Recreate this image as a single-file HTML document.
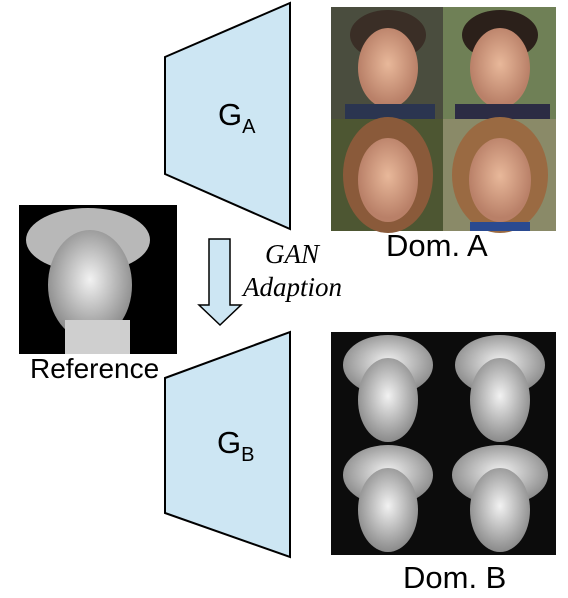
<!DOCTYPE html>
<html><head><style>
body{margin:0;width:568px;height:598px;background:#fff;position:relative;overflow:hidden;font-family:"Liberation Sans",sans-serif}
.t{position:absolute;white-space:nowrap;color:#000}
</style></head><body>
<svg width="568" height="598" style="position:absolute;left:0;top:0">
<defs>
<radialGradient id="skin" cx="50%" cy="45%" r="50%"><stop offset="0" stop-color="#e8b89a"/><stop offset="1" stop-color="#b98068"/></radialGradient>
<radialGradient id="marb" cx="50%" cy="45%" r="55%"><stop offset="0" stop-color="#f2f2f2"/><stop offset="1" stop-color="#8a8a8a"/></radialGradient>
</defs>
<polygon points="165,57 290,3 290,229 165,174" fill="#cde6f3" stroke="#000" stroke-width="2"/>
<polygon points="165,378 290,332 290,557 165,513" fill="#cde6f3" stroke="#000" stroke-width="2"/>
<polygon points="209,239 230,239 230,305 241,305 220,325 199,305 209,305" fill="#cde6f3" stroke="#000" stroke-width="1.5"/>
<rect x="331" y="7" width="112" height="112" fill="#4a4d3e"/>
<rect x="443" y="7" width="113" height="112" fill="#6f8056"/>
<rect x="331" y="119" width="112" height="112" fill="#4d5632"/>
<rect x="443" y="119" width="113" height="112" fill="#8a8a68"/>
<ellipse cx="388" cy="35" rx="38" ry="25" fill="#3a2e26"/>
<ellipse cx="388" cy="68" rx="30" ry="40" fill="url(#skin)"/>
<rect x="345" y="104" width="90" height="15" fill="#2b3550"/>
<ellipse cx="500" cy="35" rx="38" ry="25" fill="#2b201a"/>
<ellipse cx="500" cy="68" rx="30" ry="40" fill="url(#skin)"/>
<rect x="455" y="104" width="95" height="15" fill="#2c2c44"/>
<ellipse cx="388" cy="175" rx="45" ry="58" fill="#8a5a3a"/>
<ellipse cx="388" cy="180" rx="30" ry="42" fill="url(#skin)"/>
<ellipse cx="500" cy="175" rx="48" ry="58" fill="#9a6a42"/>
<ellipse cx="500" cy="180" rx="31" ry="42" fill="url(#skin)"/>
<rect x="470" y="222" width="60" height="9" fill="#2a4a90"/>
<rect x="19" y="205" width="158" height="149" fill="#000"/>
<ellipse cx="88" cy="240" rx="62" ry="32" fill="#b8b8b8"/>
<ellipse cx="90" cy="285" rx="42" ry="55" fill="url(#marb)"/>
<rect x="65" y="320" width="65" height="34" fill="#cfcfcf"/>
<rect x="331" y="332" width="225" height="223" fill="#0c0c0c"/>
<g fill="url(#marb)">
<ellipse cx="388" cy="365" rx="45" ry="30"/><ellipse cx="388" cy="400" rx="30" ry="42"/>
<ellipse cx="500" cy="365" rx="45" ry="30"/><ellipse cx="500" cy="400" rx="30" ry="42"/>
<ellipse cx="388" cy="475" rx="45" ry="30"/><ellipse cx="388" cy="510" rx="30" ry="42"/>
<ellipse cx="500" cy="475" rx="48" ry="30"/><ellipse cx="500" cy="510" rx="30" ry="42"/>
</g>
</svg>
<div class="t" style="left:218px;top:97px;font-size:31px">G<span style="font-size:20px;position:relative;top:8px">A</span></div>
<div class="t" style="left:217px;top:425px;font-size:31px">G<span style="font-size:20px;position:relative;top:8px">B</span></div>
<div class="t" style="left:386px;top:228px;font-size:31px">Dom. A</div>
<div class="t" style="left:403px;top:560px;font-size:31px">Dom. B</div>
<div class="t" style="left:30px;top:353px;font-size:28px">Reference</div>
<div class="t" style="left:265px;top:239px;font-size:27px;font-style:italic;font-family:'Liberation Serif',serif">GAN</div>
<div class="t" style="left:243px;top:272px;font-size:27px;font-style:italic;font-family:'Liberation Serif',serif">Adaption</div>
</body></html>
